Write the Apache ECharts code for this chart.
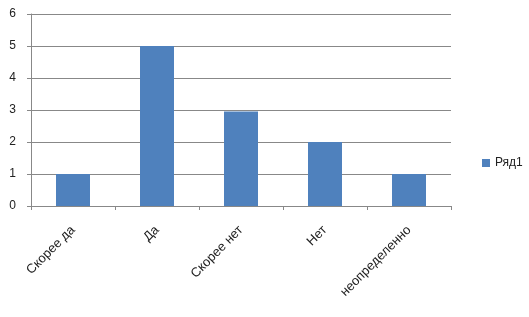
<!DOCTYPE html>
<html>
<head>
<meta charset="utf-8">
<script src="https://cdn.jsdelivr.net/npm/echarts@6/dist/echarts.min.js"></script>
<style>
html,body{margin:0;padding:0;background:#fff;}
#c{width:529px;height:317px;}
</style>
</head>
<body>
<div id="c"></div>
<script>
var categories = ["Скорее да", "Да", "Скорее нет", "Нет", "неопределенно"];
var seriesName = "Ряд1";
var values = [1, 5, 2.95, 2, 1];
var yTicks = [0, 1, 2, 3, 4, 5, 6];

var chart = echarts.init(document.getElementById('c'), null, {renderer: 'canvas'});
chart.setOption({
  animation: false,
  backgroundColor: '#ffffff',
  textStyle: {fontFamily: 'Liberation Sans, DejaVu Sans, sans-serif'},
  grid: {left: 31, top: 14, right: 78, bottom: 111, containLabel: false},
  legend: {
    data: [seriesName],
    orient: 'vertical',
    left: 477,
    top: 152,
    itemWidth: 8,
    itemHeight: 8,
    itemGap: 5,
    icon: 'rect',
    textStyle: {fontSize: 12, color: '#222'}
  },
  xAxis: {
    type: 'category',
    data: categories,
    boundaryGap: true,
    axisLine: {lineStyle: {color: '#888', width: 1}},
    axisTick: {show: true, length: 4, lineStyle: {color: '#888'}, alignWithLabel: false},
    axisLabel: {rotate: 45, fontSize: 13, color: '#222', margin: 22, interval: 0}
  },
  yAxis: {
    type: 'value',
    min: yTicks[0],
    max: yTicks[yTicks.length - 1],
    interval: 1,
    axisLine: {show: true, lineStyle: {color: '#888', width: 1}},
    axisTick: {show: true, length: 4, lineStyle: {color: '#888'}},
    axisLabel: {fontSize: 12, color: '#222', margin: 15},
    splitLine: {show: true, lineStyle: {color: '#888', width: 1}}
  },
  series: [{
    name: seriesName,
    type: 'bar',
    data: values,
    barWidth: 34,
    itemStyle: {color: '#4F81BD'}
  }]
});
</script>
</body>
</html>
